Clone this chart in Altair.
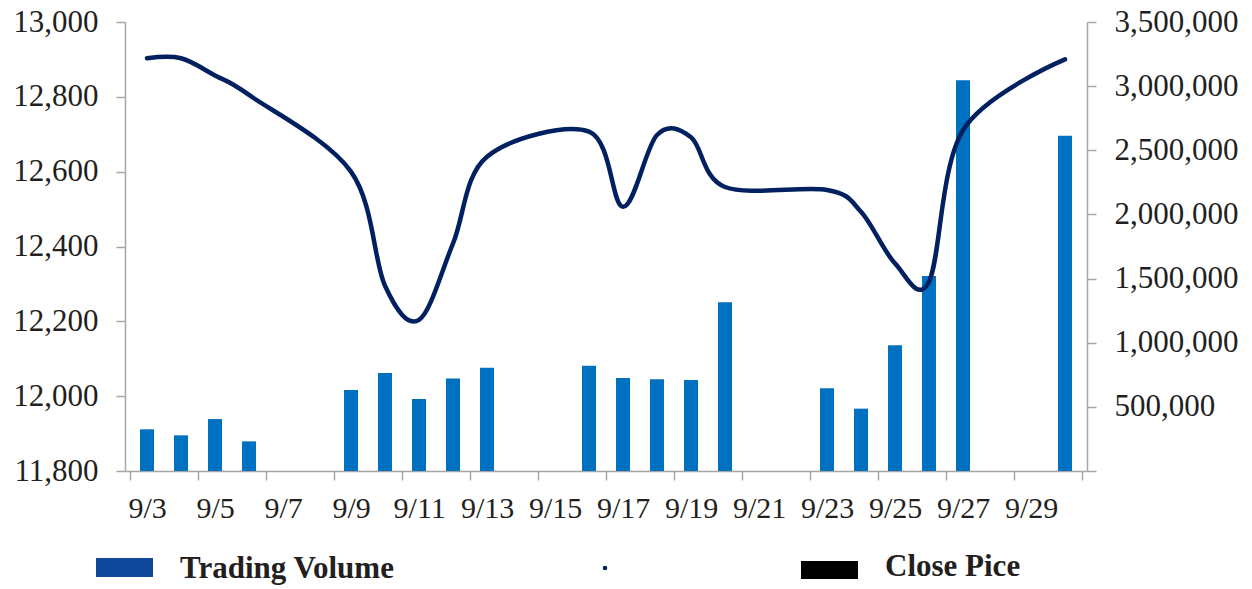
import altair as alt
import pandas as pd

# ---- data ----
dates = ["9/3", "9/4", "9/5", "9/6", "9/9", "9/10", "9/11", "9/12", "9/13",
         "9/16", "9/17", "9/18", "9/19", "9/20", "9/23", "9/24", "9/25",
         "9/26", "9/27", "9/30"]
volume = [325000, 278000, 405000, 231000, 631000, 764000, 561000, 722000,
          805000, 821000, 725000, 715000, 709000, 1315000, 645000, 486000,
          980000, 1520000, 3045000, 2614000]
close = [12903, 12903, 12857, 12805, 12600, 12295, 12204, 12408, 12640,
         12707, 12506, 12698, 12692, 12559, 12551, 12493, 12355, 12306,
         12711, 12900]
price_ticks = [11800, 12000, 12200, 12400, 12600, 12800, 13000]
volume_ticks = [0, 500000, 1000000, 1500000, 2000000, 2500000, 3000000, 3500000]
legend_labels = ["Trading Volume", "Close Pice"]

df = pd.DataFrame({
    "date": dates,
    "day": [int(d.split("/")[1]) for d in dates],
    "volume": volume,
    "close": close,
})

W, H = 962, 449
FONT = "Liberation Serif"
AXIS_COLOR = "#A6A6A6"
TEXT_COLOR = "#231F20"
BAR_COLOR = "#0070C0"
LINE_COLOR = "#002060"

day_bounds = [2.5 + 2 * k for k in range(15)]
x_scale = alt.Scale(domain=[2.5, 30.5], nice=False, zero=False)
x_axis = alt.Axis(
    values=day_bounds,
    labelExpr="datum.value < 30 ? '9/' + (datum.value + 0.5) : ''",
    labelOffset=W / 28 / 2,
    labelFlush=False,
    labelOverlap=False,
    labelFont=FONT, labelFontSize=30, labelColor=TEXT_COLOR,
    labelPadding=13,
    tickSize=9, tickColor=AXIS_COLOR, tickWidth=1.5,
    domainColor=AXIS_COLOR, domainWidth=1.5,
    grid=False, title=None,
)

bars = alt.Chart(df).mark_bar(size=14, color=BAR_COLOR).encode(
    x=alt.X("day:Q", scale=x_scale, axis=x_axis),
    y=alt.Y("volume:Q",
            scale=alt.Scale(domain=[0, 3500000], nice=False),
            axis=alt.Axis(orient="right", values=volume_ticks,
                          labelExpr="datum.value == 0 ? '' : format(datum.value, ',')",
                          labelFont=FONT, labelFontSize=31, labelColor=TEXT_COLOR,
                          labelPadding=18, tickSize=9, tickColor=AXIS_COLOR,
                          tickWidth=1.5, domainColor=AXIS_COLOR, domainWidth=1.5,
                          grid=False, title=None)),
)

line = alt.Chart(df).mark_line(
    color=LINE_COLOR, strokeWidth=4.5, interpolate="cardinal", tension=0,
    strokeCap="round", strokeJoin="round",
).encode(
    x=alt.X("day:Q", scale=x_scale, axis=x_axis),
    y=alt.Y("close:Q",
            scale=alt.Scale(domain=[11800, 13000], nice=False, zero=False),
            axis=alt.Axis(orient="left", values=price_ticks,
                          labelExpr="format(datum.value, ',')",
                          labelFont=FONT, labelFontSize=31, labelColor=TEXT_COLOR,
                          labelPadding=18, tickSize=9, tickColor=AXIS_COLOR,
                          tickWidth=1.5, domainColor=AXIS_COLOR, domainWidth=1.5,
                          grid=False, title=None)),
)

# ---- legend drawn below the plot ----
leg_df = pd.DataFrame({"label": legend_labels})
leg_base = alt.Chart(leg_df)

vol_box = leg_base.transform_filter(alt.datum.label == legend_labels[0]).mark_rect(
    color="#0F479B").encode(
    x=alt.value(-29), x2=alt.value(28), y=alt.value(536), y2=alt.value(555))
vol_text = leg_base.transform_filter(alt.datum.label == legend_labels[0]).mark_text(
    align="left", baseline="alphabetic", font=FONT, fontSize=31,
    fontWeight="bold", color=TEXT_COLOR).encode(
    x=alt.value(55), y=alt.value(556), text="label:N")
dot = leg_base.transform_filter(alt.datum.label == legend_labels[1]).mark_point(
    filled=True, size=22, color=LINE_COLOR, opacity=1).encode(
    x=alt.value(480), y=alt.value(546))
close_box = leg_base.transform_filter(alt.datum.label == legend_labels[1]).mark_rect(
    color="#000000").encode(
    x=alt.value(676), x2=alt.value(733), y=alt.value(539), y2=alt.value(557))
close_text = leg_base.transform_filter(alt.datum.label == legend_labels[1]).mark_text(
    align="left", baseline="alphabetic", font=FONT, fontSize=31,
    fontWeight="bold", color=TEXT_COLOR).encode(
    x=alt.value(760), y=alt.value(554), text="label:N")

chart = alt.layer(bars, line, vol_box, vol_text, dot, close_box, close_text).resolve_scale(
    y="independent"
).properties(
    width=W, height=H,
    autosize=alt.AutoSizeParams(type="none"),
    padding={"left": 125, "top": 22, "right": 165, "bottom": 118},
    background="white",
).configure_view(stroke=None)

chart.save("out.html", embed_options={"renderer": "svg", "actions": False})
